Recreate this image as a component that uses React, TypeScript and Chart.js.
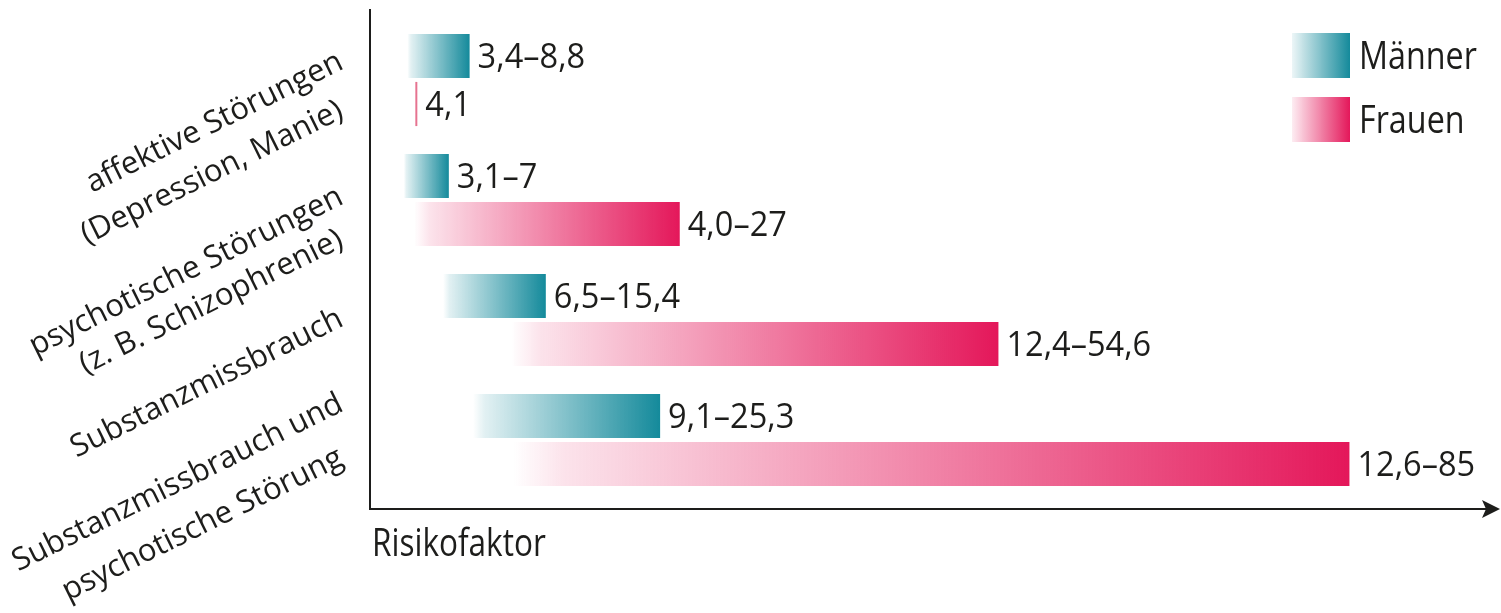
import { useEffect, useRef } from "react";
import { Chart, registerables } from "chart.js";

Chart.register(...registerables);

// ---- data ----
const categories: string[][] = [
  ["affektive Störungen", "(Depression, Manie)"],
  ["psychotische Störungen", "(z. B. Schizophrenie)"],
  ["Substanzmissbrauch"],
  ["Substanzmissbrauch und", "psychotische Störung"],
];
const seriesNames = ["Männer", "Frauen"];
const maennerStart = [3.4, 3.1, 6.5, 9.1];
const maennerEnd = [8.8, 7, 15.4, 25.3];
const frauenStart = [4.1, 4.0, 12.4, 12.6];
const frauenEnd = [4.1, 27, 54.6, 85];
const maennerLabels = ["3,4–8,8", "3,1–7", "6,5–15,4", "9,1–25,3"];
const frauenLabels = ["4,1", "4,0–27", "12,4–54,6", "12,6–85"];
const axisTitle = "Risikofaktor";
const xMin = 0;
const xMax = 97;

// ---- style ----
const TEAL = "20,138,155";
const PINK = "228,23,90";
const TEXT = "#1d1d1b";
const FONT = '"Open Sans", "DejaVu Sans", sans-serif';
const LABEL_ANGLE = (26.3 * Math.PI) / 180;
const labelRightX = 345;
const labelOffsets: number[][] = [[-12, 37], [3, 46], [5], [-30, 24]];

function gradientFill(rgb: string, thin: string) {
  return (c: any) => {
    const chart = c.chart;
    if (!chart.chartArea || c.type !== "data") return `rgb(${rgb})`;
    const raw = c.raw as [number, number];
    const xs = chart.scales.x;
    const x0 = xs.getPixelForValue(raw[0]);
    const x1 = xs.getPixelForValue(raw[1]);
    if (Math.abs(x1 - x0) < 3) return thin;
    const g = chart.ctx.createLinearGradient(x0, 0, x1, 0);
    g.addColorStop(0, `rgba(${rgb},0)`);
    g.addColorStop(0.06, `rgba(${rgb},0.12)`);
    g.addColorStop(1, `rgba(${rgb},1)`);
    return g;
  };
}

function drawText(ctx: CanvasRenderingContext2D, text: string, x: number, y: number, size: number, sx: number) {
  ctx.save();
  ctx.translate(x, y);
  ctx.scale(sx, 1);
  ctx.font = `${size}px ${FONT}`;
  ctx.textAlign = "left";
  ctx.textBaseline = "alphabetic";
  ctx.fillText(text, 0, 0);
  ctx.restore();
}

const decorPlugin = {
  id: "decor",
  afterDatasetsDraw(chart: any) {
    const { ctx, chartArea, scales } = chart;
    const ys = scales.y;
    ctx.save();
    ctx.fillStyle = TEXT;

    // value labels
    chart.data.datasets.forEach((_ds: any, di: number) => {
      const meta = chart.getDatasetMeta(di);
      const labels = di === 0 ? maennerLabels : frauenLabels;
      meta.data.forEach((el: any, i: number) => {
        const p = el.getProps(["x", "y", "base"], true);
        const xr = Math.max(p.x, p.base);
        drawText(ctx, labels[i], xr + 8, p.y + 12, 35, 0.93);
      });
    });

    // category labels (rotated)
    categories.forEach((lines, i) => {
      const c = ys.getPixelForValue(i);
      lines.forEach((line, j) => {
        ctx.save();
        ctx.translate(labelRightX, c + labelOffsets[i][j]);
        ctx.rotate(-LABEL_ANGLE);
        ctx.font = `31px ${FONT}`;
        ctx.textAlign = "right";
        ctx.textBaseline = "alphabetic";
        ctx.fillText(line, 0, 0);
        ctx.restore();
      });
    });

    // axes
    const ax = chartArea.left + 2;
    const ay = chartArea.bottom + 9;
    ctx.strokeStyle = TEXT;
    ctx.lineWidth = 2;
    ctx.beginPath();
    ctx.moveTo(ax, 9);
    ctx.lineTo(ax, ay + 1);
    ctx.moveTo(ax - 1, ay);
    ctx.lineTo(1486, ay);
    ctx.stroke();
    ctx.beginPath();
    ctx.moveTo(1500, ay);
    ctx.lineTo(1482, ay - 9);
    ctx.lineTo(1486, ay);
    ctx.lineTo(1482, ay + 9);
    ctx.closePath();
    ctx.fill();

    // axis title
    drawText(ctx, axisTitle, 372, 556, 38, 0.83);

    // legend
    const sw = [
      { rgb: TEAL, y: 33, name: seriesNames[0] },
      { rgb: PINK, y: 97, name: seriesNames[1] },
    ];
    sw.forEach((s) => {
      const g = ctx.createLinearGradient(1292, 0, 1350, 0);
      g.addColorStop(0, `rgba(${s.rgb},0.08)`);
      g.addColorStop(1, `rgba(${s.rgb},1)`);
      ctx.fillStyle = g;
      ctx.fillRect(1292, s.y, 58, 45);
      ctx.fillStyle = TEXT;
      drawText(ctx, s.name, 1359, s.y + 36, 38, 0.85);
    });

    ctx.restore();
  },
};

export default function App() {
  const ref = useRef<HTMLCanvasElement | null>(null);
  useEffect(() => {
    if (!ref.current) return;
    const chart = new Chart(ref.current, {
      type: "bar",
      data: {
        labels: categories,
        datasets: [
          {
            label: seriesNames[0],
            data: maennerStart.map((s, i) => [s, maennerEnd[i]]) as any,
            backgroundColor: gradientFill(TEAL, `rgb(${TEAL})`) as any,
            borderWidth: 0,
            categoryPercentage: 0.8,
            barPercentage: 0.92,
          },
          {
            label: seriesNames[1],
            data: frauenStart.map((s, i) => [s, frauenEnd[i]]) as any,
            backgroundColor: gradientFill(PINK, "rgba(226,90,125,0.85)") as any,
            borderWidth: 0,
            minBarLength: 2,
            categoryPercentage: 0.8,
            barPercentage: 0.92,
          },
        ],
      },
      options: {
        indexAxis: "y",
        responsive: false,
        animation: false,
        events: [],
        layout: { padding: { left: 368, right: 13, top: 20, bottom: 113 } },
        plugins: { legend: { display: false }, tooltip: { enabled: false } },
        scales: {
          x: { type: "linear", min: xMin, max: xMax, display: false },
          y: { type: "category", display: false, offset: true },
        },
      },
      plugins: [decorPlugin],
    });
    return () => chart.destroy();
  }, []);
  return (
    <div style={{ position: "absolute", left: 0, top: 0, width: 1501, height: 613, background: "#fff" }}>
      <canvas ref={ref} width={1501} height={613} style={{ display: "block" }} />
    </div>
  );
}
